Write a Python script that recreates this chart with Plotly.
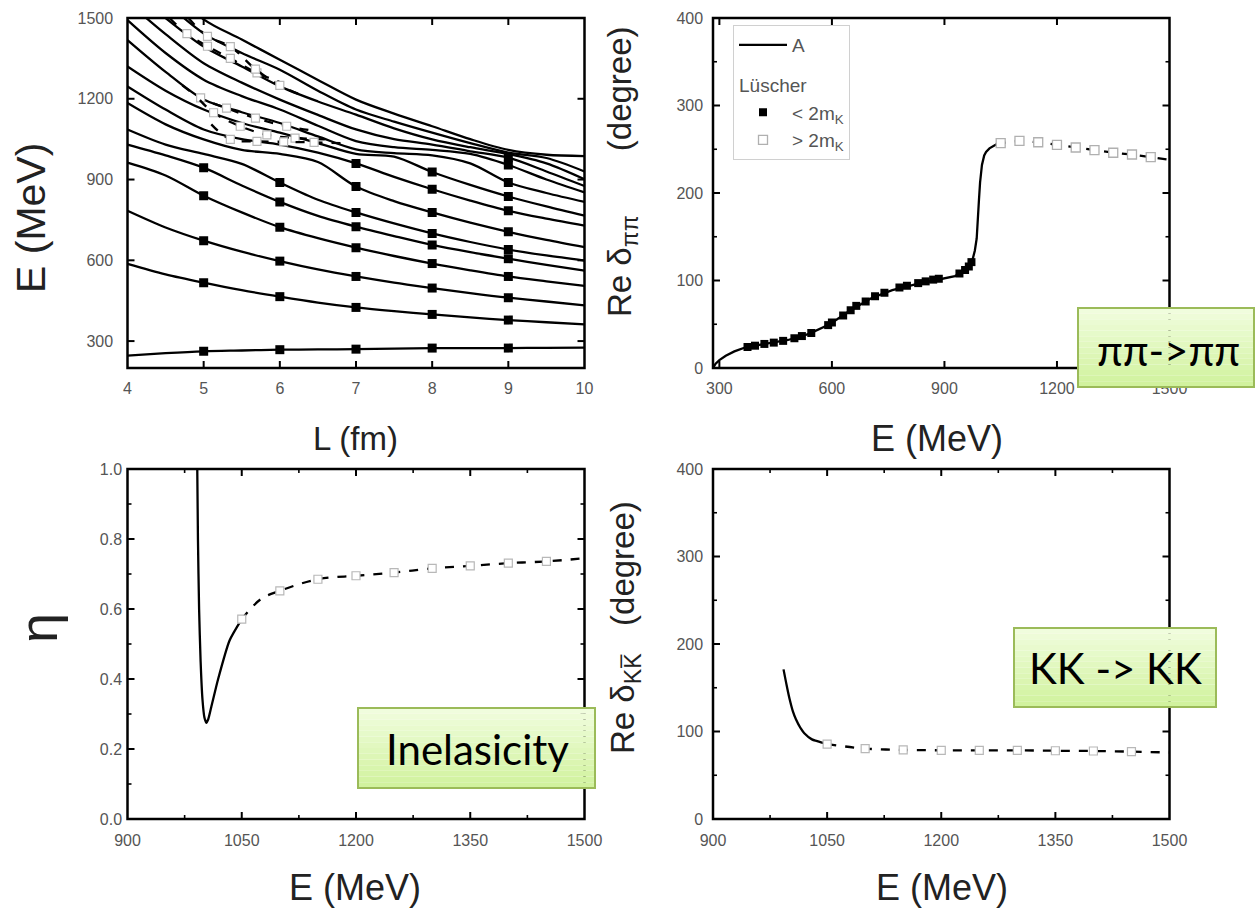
import plotly.graph_objects as go

W, H = 1256, 910


def px(xp):
    return xp / W


def py(yp):
    return 1 - yp / H


# ---------------- Panel 1: finite-volume energy levels E(L) ----------------
L_grid = [4.0, 4.5, 5.0, 5.5, 6.0, 6.5, 7.0, 7.5, 8.0, 8.5, 9.0, 9.5, 10.0]
level_01 = [246, 255, 262, 265, 268, 269, 270, 272, 274, 274, 274, 275, 276]
level_02 = [587, 548, 517, 489, 465, 443, 425, 411, 399, 388, 378, 370, 362]
level_03 = [784, 722, 673, 632, 597, 566, 540, 517, 497, 478, 461, 447, 433]
level_04 = [963, 915, 840, 778, 723, 682, 647, 616, 588, 563, 540, 522, 505]
level_05 = [1030, 990, 944, 878, 817, 765, 725, 690, 657, 630, 606, 583, 562]
level_06 = [1086, 1030, 995, 958, 889, 825, 778, 737, 700, 668, 640, 618, 599]
level_07 = [1184, 1105, 1049, 1010, 995, 965, 874, 820, 778, 740, 706, 676, 649]
level_08 = [1246, 1160, 1086, 1050, 1030, 1000, 960, 910, 864, 822, 784, 755, 729]
level_09 = [1320, 1230, 1160, 1110, 1074, 1035, 995, 985, 928, 880, 837, 800, 766]
level_10 = [1418, 1300, 1197, 1150, 1110, 1060, 1012, 998, 990, 960, 889, 850, 817]
level_11 = [1492, 1370, 1271, 1210, 1160, 1100, 1043, 1020, 1010, 995, 954, 900, 852]
level_12 = [1560, 1440, 1332, 1260, 1197, 1140, 1086, 1050, 1030, 1005, 981, 930, 876]
level_13 = [1620, 1500, 1394, 1320, 1246, 1190, 1141, 1090, 1049, 1020, 995, 960, 901]
level_14 = [1700, 1560, 1443, 1370, 1308, 1230, 1160, 1115, 1074, 1035, 1000, 980, 930]
level_15 = [1780, 1630, 1495, 1420, 1345, 1270, 1197, 1145, 1098, 1050, 1010, 992, 987]
levels = [level_01, level_02, level_03, level_04, level_05, level_06, level_07,
          level_08, level_09, level_10, level_11, level_12, level_13, level_14, level_15]

lattice_L = [5, 6, 7, 8, 9]   # lattice sizes with Lüscher points
two_mK = 990                  # threshold separating filled / open symbols

# dashed branches above 2 m_K (open symbols on interior points)
dash_a_L = [4.55, 4.78, 5.05, 5.35, 5.70, 6.00]
dash_a_E = [1500, 1442, 1395, 1350, 1296, 1262]
dash_b_L = [4.80, 5.05, 5.35, 5.68, 6.00, 6.30]
dash_b_E = [1500, 1432, 1394, 1310, 1250, 1212]
dash_c_L = [4.72, 4.96, 5.30, 5.68, 6.09, 6.49]
dash_c_E = [1250, 1203, 1165, 1128, 1098, 1080]
dash_d_L = [4.95, 5.13, 5.48, 5.83, 6.20, 6.68]
dash_d_E = [1195, 1148, 1098, 1066, 1054, 1049]
dash_e_L = [5.10, 5.35, 5.70, 6.05, 6.45, 6.85]
dash_e_E = [1105, 1049, 1042, 1040, 1038, 1035]
dashed = [(dash_a_L, dash_a_E), (dash_b_L, dash_b_E), (dash_c_L, dash_c_E),
          (dash_d_L, dash_d_E), (dash_e_L, dash_e_E)]

# ---------------- Panel 2: Re delta_pipi ----------------
pipi_E_solid = [283, 290, 300, 317, 340, 372, 400, 428, 483, 539, 594, 650, 706, 761,
                817, 872, 928, 950, 965, 975, 981, 986, 989, 992, 995, 1000, 1006,
                1011, 1020, 1030, 1040]
pipi_d_solid = [0, 5, 9, 14, 19, 24, 26, 28, 32, 39, 50, 66, 80, 89,
                95, 100, 105, 110, 116, 124, 134, 148, 165, 192, 212, 232, 243,
                247, 251, 254, 256]
pipi_E_dash = [1040, 1050, 1100, 1150, 1200, 1250, 1300, 1350, 1400, 1450, 1500]
pipi_d_dash = [256, 257, 259.5, 258, 255, 252, 249, 246, 244, 241, 238]
pipi_lu_E = [375, 395, 420, 445, 470, 500, 520, 545, 590, 600, 630, 650, 665, 690,
             715, 740, 780, 800, 830, 850, 870, 885, 940, 955, 965, 972]
pipi_lu_d = [24, 25.5, 27.5, 29, 31, 34, 36.5, 40, 49, 52, 60, 66, 71, 76,
             82, 86, 92, 94, 97, 99, 101, 102, 108, 112, 116, 121]
pipi_open_E = [1050, 1100, 1150, 1200, 1250, 1300, 1350, 1400, 1450]
pipi_open_d = [257, 259.5, 258, 255, 252, 249, 246, 244, 241]

# ---------------- Panel 3: inelasticity eta ----------------
eta_E_solid = [991.6, 992.5, 994, 996, 998.5, 1001, 1003.5, 1006, 1010, 1019, 1034, 1050]
eta_solid = [1.0, 0.80, 0.60, 0.45, 0.34, 0.29, 0.275, 0.285, 0.32, 0.40, 0.51, 0.571]
eta_E_dash = [1050, 1075, 1100, 1150, 1200, 1250, 1300, 1350, 1400, 1450, 1500]
eta_dash = [0.571, 0.628, 0.652, 0.685, 0.695, 0.704, 0.716, 0.723, 0.731, 0.736, 0.745]
eta_open_E = [1050, 1100, 1150, 1200, 1250, 1300, 1350, 1400, 1450]
eta_open = [0.571, 0.652, 0.685, 0.695, 0.704, 0.716, 0.723, 0.731, 0.736]

# ---------------- Panel 4: Re delta_KK ----------------
kk_E_solid = [992.7, 997, 1001, 1005, 1009, 1015, 1020, 1030, 1037, 1050]
kk_d_solid = [171, 152, 136, 123, 114, 104, 98, 91, 89, 85.5]
kk_E_dash = [1050, 1100, 1150, 1200, 1250, 1300, 1350, 1400, 1450, 1500]
kk_d_dash = [85.5, 80.5, 79, 78.5, 78.5, 78.5, 78, 77.7, 77, 76]
kk_open_E = [1050, 1100, 1150, 1200, 1250, 1300, 1350, 1400, 1450]
kk_open_d = [85.5, 80.5, 79, 78.5, 78.5, 78.5, 78, 77.7, 77]

# ---------------- tick positions (major / minor) per panel ----------------
p1_xmajor = [5, 6, 7, 8, 9]
p1_ymajor = [300, 600, 900, 1200]
p2_xmajor = [300, 600, 900, 1200]
p2_ymajor = [100, 200, 300]
p2_yminor = [50, 150, 250, 350]
p3_xmajor = [1050, 1200, 1350]
p3_xminor = [975, 1125, 1275, 1425]
p3_ymajor = [0.2, 0.4, 0.6, 0.8]
p3_yminor = [0.1, 0.3, 0.5, 0.7, 0.9]
p4_xmajor = [1050, 1200, 1350]
p4_xminor = [975, 1125, 1275, 1425]
p4_ymajor = [100, 200, 300]
p4_yminor = [50, 150, 250, 350]

# ---------------- styles ----------------
BLACK_LINE = dict(color="black", width=2.3)
FILLED = dict(symbol="square", size=9, color="black", line=dict(color="black", width=0))
OPEN = dict(symbol="square", size=8, color="white", line=dict(color="#b8b8b8", width=1.2))
TICKFONT = dict(family="Liberation Sans, Arial, sans-serif", size=16, color="#555555")
TITLEFONT = "Liberation Sans, Arial, sans-serif"

fig = go.Figure()

# ---- panel 1 ----
for lv in levels:
    fig.add_trace(go.Scatter(x=L_grid, y=lv, mode="lines",
                             line=dict(color="black", width=2.3, shape="spline", smoothing=0.9),
                             xaxis="x", yaxis="y", showlegend=False, hoverinfo="skip"))
for dl, de in dashed:
    fig.add_trace(go.Scatter(x=dl, y=de, mode="lines",
                             line=dict(color="black", width=2.3, dash="dash", shape="spline"),
                             xaxis="x", yaxis="y", showlegend=False, hoverinfo="skip"))
    fig.add_trace(go.Scatter(x=dl[1:-1], y=de[1:-1], mode="markers", marker=OPEN,
                             xaxis="x", yaxis="y", showlegend=False, hoverinfo="skip"))
mk_L, mk_E = [], []
for lv in levels:
    for Lval in lattice_L:
        e = lv[L_grid.index(float(Lval))]
        if e < two_mK:
            mk_L.append(Lval)
            mk_E.append(e)
fig.add_trace(go.Scatter(x=mk_L, y=mk_E, mode="markers", marker=FILLED,
                         xaxis="x", yaxis="y", showlegend=False, hoverinfo="skip"))

# ---- panel 2 ----
fig.add_trace(go.Scatter(x=pipi_E_solid, y=pipi_d_solid, mode="lines", line=BLACK_LINE,
                         name="A", legendgroup="a", xaxis="x2", yaxis="y2"))
fig.add_trace(go.Scatter(x=pipi_E_dash, y=pipi_d_dash, mode="lines",
                         line=dict(color="black", width=2.3, dash="dash"),
                         xaxis="x2", yaxis="y2", showlegend=False, hoverinfo="skip"))
fig.add_trace(go.Scatter(x=pipi_lu_E, y=pipi_lu_d, mode="markers",
                         marker=dict(symbol="square", size=8, color="black"),
                         name="&lt; 2m<sub>K</sub>", legendgroup="lu",
                         legendgrouptitle=dict(text="Lüscher",
                                               font=dict(family=TITLEFONT, size=19, color="#555555")),
                         xaxis="x2", yaxis="y2"))
fig.add_trace(go.Scatter(x=pipi_open_E, y=pipi_open_d, mode="markers",
                         marker=dict(symbol="square", size=9, color="white",
                                     line=dict(color="#b0b0b0", width=1.3)),
                         name="&gt; 2m<sub>K</sub>", legendgroup="lu",
                         xaxis="x2", yaxis="y2"))

# ---- panel 3 ----
fig.add_trace(go.Scatter(x=eta_E_solid, y=eta_solid, mode="lines",
                         line=dict(color="black", width=2.3, shape="spline", smoothing=0.6),
                         xaxis="x3", yaxis="y3", showlegend=False, hoverinfo="skip"))
fig.add_trace(go.Scatter(x=eta_E_dash, y=eta_dash, mode="lines",
                         line=dict(color="black", width=2.3, dash="dash", shape="spline"),
                         xaxis="x3", yaxis="y3", showlegend=False, hoverinfo="skip"))
fig.add_trace(go.Scatter(x=eta_open_E, y=eta_open, mode="markers", marker=OPEN,
                         xaxis="x3", yaxis="y3", showlegend=False, hoverinfo="skip"))

# ---- panel 4 ----
fig.add_trace(go.Scatter(x=kk_E_solid, y=kk_d_solid, mode="lines",
                         line=dict(color="black", width=2.3, shape="spline"),
                         xaxis="x4", yaxis="y4", showlegend=False, hoverinfo="skip"))
fig.add_trace(go.Scatter(x=kk_E_dash, y=kk_d_dash, mode="lines",
                         line=dict(color="black", width=2.3, dash="dash", shape="spline"),
                         xaxis="x4", yaxis="y4", showlegend=False, hoverinfo="skip"))
fig.add_trace(go.Scatter(x=kk_open_E, y=kk_open_d, mode="markers", marker=OPEN,
                         xaxis="x4", yaxis="y4", showlegend=False, hoverinfo="skip"))

NB = "\u00a0"


def axis(domain, rng, tick0, dtick, anchor, suffix="", fmt=None, standoff=0):
    d = dict(domain=domain, range=rng, tick0=tick0, dtick=dtick, anchor=anchor,
             showline=False, ticks="", showgrid=False, zeroline=False,
             tickfont=TICKFONT, ticksuffix=suffix, automargin=False)
    if standoff:
        d["ticklabelstandoff"] = standoff
    if fmt:
        d["tickformat"] = fmt
    return d


XL = [px(127.5), px(584.5)]
XR = [px(713), px(1169.5)]
YT = [py(368), py(18)]
YB = [py(819), py(469)]
PW, PH = 457.0, 350.0   # plot area size in px (for tick lengths)

layout = dict(
    width=W, height=H, autosize=False,
    margin=dict(l=0, r=0, t=0, b=0, autoexpand=False),
    paper_bgcolor="white", plot_bgcolor="white",
    xaxis=axis(XL, [4, 10], 4, 1, "y", standoff=9),
    yaxis=axis(YT, [200, 1500], 300, 300, "x", suffix=NB * 3),
    xaxis2=axis(XR, [283, 1500], 300, 300, "y2", standoff=9),
    yaxis2=axis(YT, [0, 400], 0, 100, "x2", suffix=NB * 2),
    xaxis3=axis(XL, [900, 1500], 900, 150, "y3", standoff=10),
    yaxis3=axis(YB, [0, 1], 0, 0.2, "x3", suffix=NB, fmt=".1f"),
    xaxis4=axis(XR, [900, 1500], 900, 150, "y4", standoff=10),
    yaxis4=axis(YB, [0, 400], 0, 100, "x4", suffix=NB * 2),
    legend=dict(x=px(733), y=py(25), xanchor="left", yanchor="top",
                bgcolor="white", bordercolor="#d0d0d0", borderwidth=1,
                font=dict(family=TITLEFONT, size=19, color="#555555"),
                traceorder="grouped", tracegroupgap=12, itemwidth=48),
    showlegend=True,
)

shapes = []


def frame(xa, ya, xmaj, xmin, ymaj, ymin):
    """Box frame + inside ticks on all four sides (mirrored)."""
    shapes.append(dict(type="rect", xref=xa + " domain", yref=ya + " domain",
                       x0=0, x1=1, y0=0, y1=1, line=dict(color="black", width=2.5),
                       fillcolor="rgba(0,0,0,0)", layer="above"))
    for vals, ln, wd in ((xmaj, 7, 2), (xmin, 4, 1.6)):
        f = ln / PH
        for v in vals:
            for y0, y1 in ((0, f), (1 - f, 1)):
                shapes.append(dict(type="line", xref=xa, yref=ya + " domain",
                                   x0=v, x1=v, y0=y0, y1=y1,
                                   line=dict(color="black", width=wd), layer="above"))
    for vals, ln, wd in ((ymaj, 7, 2), (ymin, 4, 1.6)):
        f = ln / PW
        for v in vals:
            for x0, x1 in ((0, f), (1 - f, 1)):
                shapes.append(dict(type="line", xref=xa + " domain", yref=ya,
                                   x0=x0, x1=x1, y0=v, y1=v,
                                   line=dict(color="black", width=wd), layer="above"))


frame("x", "y", p1_xmajor, [], p1_ymajor, [])
frame("x2", "y2", p2_xmajor, [], p2_ymajor, p2_yminor)
frame("x3", "y3", p3_xmajor, p3_xminor, p3_ymajor, p3_yminor)
frame("x4", "y4", p4_xmajor, p4_xminor, p4_ymajor, p4_yminor)

annotations = []


def title(text, xp, yp, size, angle=0, color="#222222"):
    annotations.append(dict(text=text, x=px(xp), y=py(yp), xref="paper", yref="paper",
                            showarrow=False, textangle=angle, xanchor="center", yanchor="middle",
                            font=dict(family=TITLEFONT, size=size, color=color)))


title("E (MeV)", 31, 218, 41, -90)
title("L (fm)", 355, 438, 33)
title("E (MeV)", 937, 438, 36)
title("Re δ<sub>ππ</sub>" + NB * 7 + "(degree)", 622, 172, 33, -90)
title("η", 38, 628, 54, -90)
title("E (MeV)", 355, 887, 36)
title("Re δ<sub>KK\u0305</sub>" + NB * 3 + "(degree)", 625, 628, 33, -90)
title("E (MeV)", 942, 887, 36)

# green label boxes (vertical gradient faked with stripes)
boxes = [
    ((1078, 308, 1254, 387), "ππ-&gt;ππ", (1168, 350)),
    ((358, 708, 595, 788), "Inelasicity", (477, 749)),
    ((1014, 628, 1216, 707), "KK -&gt; KK", (1115, 668)),
]
top_rgb = (240, 253, 221)
bot_rgb = (209, 242, 158)
nstripe = 14
for (x0, y0, x1, y1), txt, (tx, ty) in boxes:
    for i in range(nstripe):
        f = i / (nstripe - 1)
        c = tuple(int(round(top_rgb[k] + (bot_rgb[k] - top_rgb[k]) * f)) for k in range(3))
        ya = y0 + (y1 - y0) * i / nstripe
        yb = y0 + (y1 - y0) * (i + 1) / nstripe
        shapes.append(dict(type="rect", xref="paper", yref="paper",
                           x0=px(x0), x1=px(x1), y0=py(yb), y1=py(ya),
                           fillcolor="rgb(%d,%d,%d)" % c, line=dict(width=0), layer="above"))
    shapes.append(dict(type="rect", xref="paper", yref="paper",
                       x0=px(x0), x1=px(x1), y0=py(y1), y1=py(y0),
                       fillcolor="rgba(0,0,0,0)", line=dict(color="#9bbb59", width=2), layer="above"))
    annotations.append(dict(text=txt, x=px(tx), y=py(ty), xref="paper", yref="paper",
                            showarrow=False, xanchor="center", yanchor="middle",
                            font=dict(family="Lato, 'Noto Sans', sans-serif", size=42, color="black")))

layout["annotations"] = annotations
layout["shapes"] = shapes
fig.update_layout(**layout)

fig.write_html("out.html", config={"displayModeBar": False})
